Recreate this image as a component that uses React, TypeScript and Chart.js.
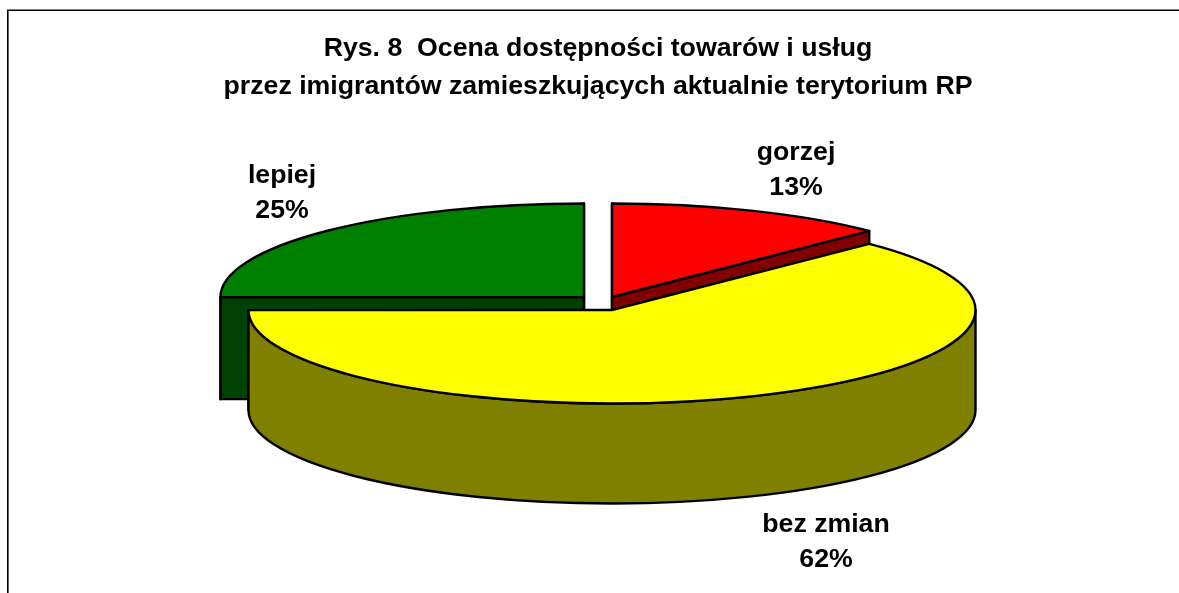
import React, { useEffect, useRef } from "react";
import { Chart, registerables } from "chart.js";

Chart.register(...registerables);

const categories = ["gorzej", "bez zmian", "lepiej"];
const shares = [12.5, 62.4, 25];
const titleLines = [
  "Rys. 8  Ocena dostępności towarów i usług",
  "przez imigrantów zamieszkujących aktualnie terytorium RP",
];

const topColors = ["#FF0000", "#FFFF00", "#008000"];
const sideColors = ["#800000", "#808000", "#004000"];
const FONT = '"Liberation Sans", Arial, sans-serif';

// 3D projection of the pie, applied to the arc elements Chart.js computes
const VIEW = { cx: 612, cy: 310, rx: 363.5, ry: 93.5 };
const depths = [102, 100, 102];
const explode = [
  [0, -13],
  [0, 0],
  [-28, -13],
];
const paintOrder = [0, 2, 1];
const labelAnchors = [
  [796, 153],
  [826, 525],
  [282, 176],
];

const pie3d = {
  id: "pie3d",
  beforeDraw(chart: any) {
    const { ctx, width, height } = chart;
    ctx.save();
    ctx.strokeStyle = "#000";
    ctx.lineWidth = 1.6;
    ctx.beginPath();
    ctx.moveTo(7.8, height);
    ctx.lineTo(7.8, 10.2);
    ctx.lineTo(width, 10.2);
    ctx.stroke();
    ctx.restore();
  },
  beforeDatasetsDraw(chart: any) {
    const { ctx } = chart;
    const arcs = chart.getDatasetMeta(0).data;
    const { rx, ry } = VIEW;
    for (const i of paintOrder) {
      const arc = arcs[i];
      const depth = depths[i];
      const cx = VIEW.cx + explode[i][0];
      const cy = VIEW.cy + explode[i][1];
      const a1 = arc.startAngle;
      const a2 = arc.endAngle;
      const px = (a: number) => cx + rx * Math.cos(a);
      const py = (a: number) => cy + ry * Math.sin(a);

      ctx.save();
      ctx.lineWidth = 2.4;
      ctx.lineJoin = "round";
      ctx.strokeStyle = "#000";
      ctx.fillStyle = sideColors[i];

      // cut faces
      for (const a of [a1, a2]) {
        ctx.beginPath();
        ctx.moveTo(cx, cy);
        ctx.lineTo(px(a), py(a));
        ctx.lineTo(px(a), py(a) + depth);
        ctx.lineTo(cx, cy + depth);
        ctx.closePath();
        ctx.fill();
        ctx.stroke();
      }

      // outer wall (front half only)
      const lo = Math.max(a1, 0);
      const hi = Math.min(a2, Math.PI);
      if (hi > lo) {
        ctx.beginPath();
        ctx.ellipse(cx, cy, rx, ry, 0, lo, hi);
        ctx.ellipse(cx, cy + depth, rx, ry, 0, hi, lo, true);
        ctx.closePath();
        ctx.fill();
        ctx.stroke();
      }

      // top face: the library's own arc, projected
      ctx.save();
      ctx.translate(cx, cy);
      ctx.scale(rx / arc.outerRadius, ry / arc.outerRadius);
      ctx.translate(-arc.x, -arc.y);
      arc.draw(ctx);
      ctx.restore();

      ctx.beginPath();
      ctx.moveTo(cx, cy);
      ctx.ellipse(cx, cy, rx, ry, 0, a1, a2);
      ctx.closePath();
      ctx.stroke();
      ctx.restore();
    }
    return false;
  },
  afterDraw(chart: any) {
    const { ctx } = chart;
    const values: number[] = chart.data.datasets[0].data;
    const total = values.reduce((s, v) => s + v, 0);
    ctx.save();
    ctx.font = `bold 26.7px ${FONT}`;
    ctx.fillStyle = "#000";
    ctx.textAlign = "center";
    ctx.textBaseline = "middle";
    values.forEach((v, i) => {
      const [x, y] = labelAnchors[i];
      ctx.fillText(chart.data.labels[i], x, y);
      ctx.fillText(`${Math.round((v / total) * 100)}%`, x, y + 35);
    });
    ctx.restore();
  },
};

export default function App() {
  const ref = useRef<HTMLCanvasElement>(null);
  useEffect(() => {
    const chart = new Chart(ref.current as HTMLCanvasElement, {
      type: "pie",
      data: {
        labels: categories,
        datasets: [
          { data: shares, backgroundColor: topColors, borderWidth: 0 },
        ],
      },
      options: {
        responsive: false,
        animation: false,
        devicePixelRatio: 1,
        layout: { padding: { left: 17, top: 30 } },
        plugins: {
          legend: { display: false },
          tooltip: { enabled: false },
          title: {
            display: true,
            text: titleLines,
            color: "#000",
            font: { family: FONT, size: 26.7, weight: "bold", lineHeight: 1.42 },
            padding: 0,
          },
        },
      },
      plugins: [pie3d],
    } as any);
    return () => chart.destroy();
  }, []);
  return (
    <canvas
      ref={ref}
      width={1179}
      height={593}
      style={{ position: "absolute", left: 0, top: 0, display: "block" }}
    />
  );
}
